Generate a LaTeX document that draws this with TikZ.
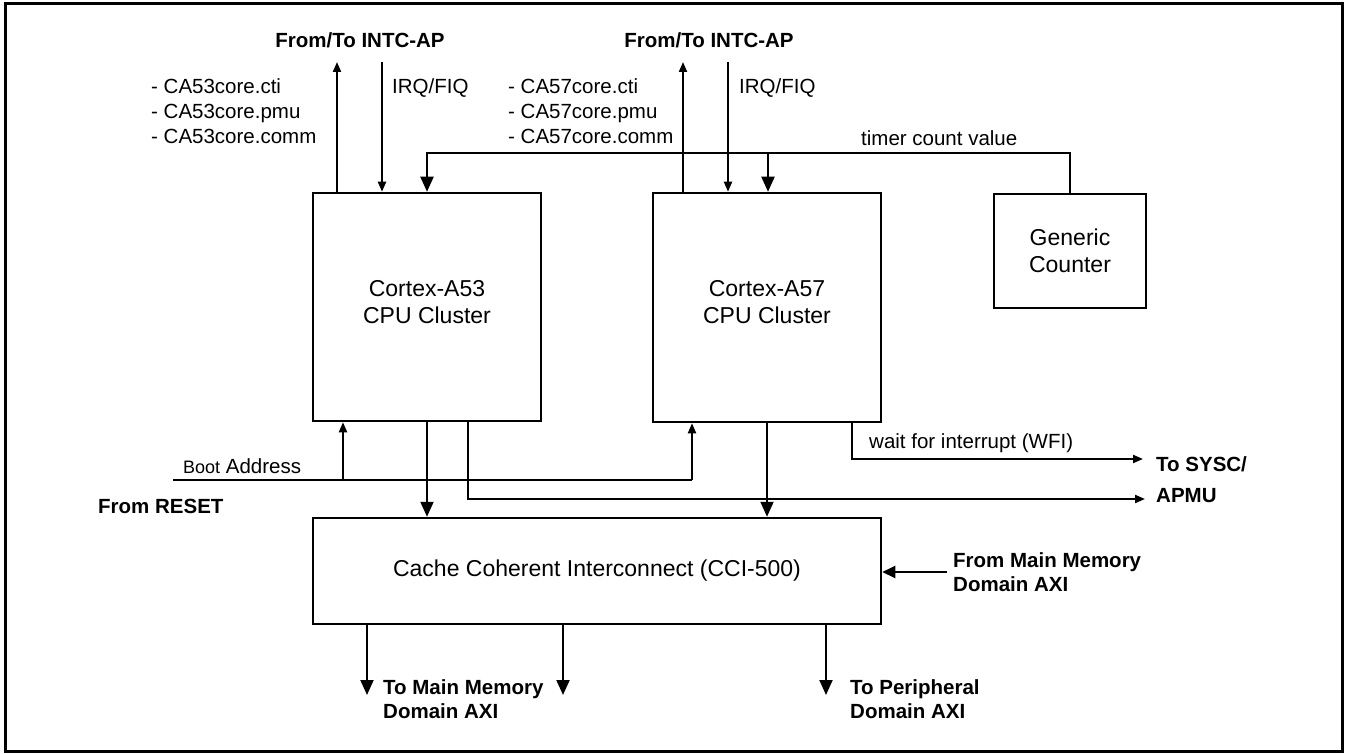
\documentclass[tikz,border=0pt]{standalone}
\usepackage{fontspec}
\setmainfont{Liberation Sans}
\usetikzlibrary{arrows.meta}
\newcommand\lblfont{\fontsize{20.5}{25}\selectfont}
\newcommand\bxfont{\fontsize{23}{27}\selectfont}
\begin{document}
\begin{tikzpicture}[x=1pt,y=-1pt,
  box/.style={draw, line width=2.5pt, inner sep=0pt, align=center, font=\bxfont},
  lbl/.style={inner sep=0pt, anchor=base west, font=\lblfont},
  blbl/.style={inner sep=0pt, anchor=base west, font=\lblfont\bfseries},
  wire/.style={line width=2pt},
  thinwire/.style={line width=1.2pt},
  sarr/.style={wire, -{Triangle[width=8pt,length=10pt]}},
  marr/.style={wire, -{Triangle[width=12pt,length=13pt]}},
  barr/.style={wire, -{Triangle[width=13pt,length=15pt]}}]
\useasboundingbox (0,0) rectangle (1346,754);
\draw[line width=3pt] (5,4) rectangle (1342,751);

% boxes
\node[box, minimum width=228pt, minimum height=228pt] (a53) at (427,307) {};
\node[font=\bxfont, align=center, inner sep=0pt] (a53t) at (427,302) {Cortex-A53\\CPU Cluster};
\node[box, minimum width=228pt, minimum height=229pt] (a57) at (767,307.5) {};
\node[font=\bxfont, align=center, inner sep=0pt] (a57t) at (767,302) {Cortex-A57\\CPU Cluster};
\node[box, minimum width=152pt, minimum height=114pt] (gc) at (1070,251) {Generic\\Counter};
\node[box, minimum width=568pt, minimum height=106pt] (cci) at (597,571) {Cache Coherent Interconnect (CCI-500)};

% coordinates
\coordinate (i53o) at (337,62);
\coordinate (i53i) at (382,62);
\coordinate (i57o) at (683,62);
\coordinate (i57i) at (728,62);
\coordinate (tl) at (1070,153);
\coordinate (t53) at (427,153);
\coordinate (t57) at (768,153);
\coordinate (bs) at (173,480);
\coordinate (b53) at (343,480);
\coordinate (b57) at (692,480);
\coordinate (ap53) at (468,499);
\coordinate (apmu) at (1145,499);
\coordinate (wfi) at (852,459);
\coordinate (sysc) at (1143,459);
\coordinate (fmm) at (947,572);
\coordinate (o1) at (367,695);
\coordinate (o2) at (563,695);
\coordinate (o3) at (826,695);

% top connectors
\draw[sarr] (a53.north -| i53o) -- (i53o);
\draw[sarr] (i53i) -- (i53i |- a53.north);
\draw[sarr] (a57.north -| i57o) -- (i57o);
\draw[sarr] (i57i) -- (i57i |- a57.north);
\draw[barr] (gc.north) -- (tl) -- (t53) -- (t53 |- a53.north);
\draw[barr] (t57) -- (t57 |- a57.north);

% boot address
\draw[thinwire] (bs) -- (b57);
\draw[sarr] (b53) -- (b53 |- a53.south);
\draw[sarr] (b57) -- (b57 |- a57.south);

% to CCI
\draw[barr] (a53.south) -- (a53.south |- cci.north);
\draw[barr] (a57.south) -- (a57.south |- cci.north);

% to SYSC/APMU
\draw[sarr] (ap53 |- a53.south) -- (ap53) -- (apmu);
\draw[sarr] (wfi |- a57.south) -- (wfi) -- (sysc);

% from main memory
\draw[marr] (fmm) -- (fmm -| cci.east);

% outputs
\draw[barr] (o1 |- cci.south) -- (o1);
\draw[barr] (o2 |- cci.south) -- (o2);
\draw[barr] (o3 |- cci.south) -- (o3);

% labels
\node[blbl, anchor=base] (intc1) at (360,48) {From/To INTC-AP};
\node[blbl, anchor=base] (intc2) at (709,48) {From/To INTC-AP};
\node[lbl] (c53a) at (151,94) {- CA53core.cti};
\node[lbl] (c53b) at (151,119) {- CA53core.pmu};
\node[lbl] (c53c) at (151,144) {- CA53core.comm};
\node[lbl] (irq1) at (392,94) {IRQ/FIQ};
\node[lbl] (c57a) at (508,94) {- CA57core.cti};
\node[lbl] (c57b) at (508,119) {- CA57core.pmu};
\node[lbl] (c57c) at (508,144) {- CA57core.comm};
\node[lbl] (irq2) at (739,94) {IRQ/FIQ};
\node[lbl] (tcv) at (861,146) {timer count value};
\node[lbl] (boot) at (183,473) {{\fontsize{18}{22}\selectfont Boot} Address};
\node[blbl] (reset) at (98,513) {From RESET};
\node[lbl] (wfit) at (869,448) {wait for interrupt (WFI)};
\node[blbl] (sys1) at (1156,471) {To SYSC/};
\node[blbl] (sys2) at (1156,502) {APMU};
\node[blbl] (fm1) at (953,567) {From Main Memory};
\node[blbl] (fm2) at (953,591) {Domain AXI};
\node[blbl] (tm1) at (383,694) {To Main Memory};
\node[blbl] (tm2) at (383,718) {Domain AXI};
\node[blbl] (tp1) at (850,694) {To Peripheral};
\node[blbl] (tp2) at (850,718) {Domain AXI};
\end{tikzpicture}
\end{document}
